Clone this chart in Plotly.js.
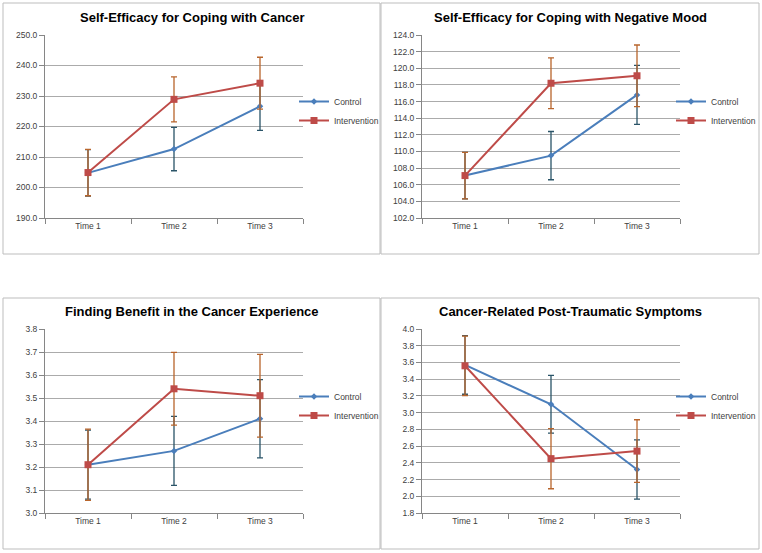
<!DOCTYPE html>
<html>
<head>
<meta charset="utf-8">
<script src="https://cdn.plot.ly/plotly-3.0.1.min.js"></script>
<style>
  html, body { margin: 0; padding: 0; background: #fff; }
  #chart { width: 762px; height: 553px; }
</style>
</head>
<body>
<div id="chart"></div>
<script>
// ---- Data ----
const times = ['Time 1', 'Time 2', 'Time 3'];
const seriesNames = ['Control', 'Intervention'];
const panelTitles = [
  'Self-Efficacy for Coping with Cancer',
  'Self-Efficacy for Coping with Negative Mood',
  'Finding Benefit in the Cancer Experience',
  'Cancer-Related Post-Traumatic Symptoms'
];

const cancerControl = [204.8, 212.6, 226.6];
const cancerControlErr = [7.6, 7.1, 7.9];
const cancerIntervention = [204.9, 228.9, 234.2];
const cancerInterventionErr = [7.6, 7.4, 8.5];

const moodControl = [107.1, 109.5, 116.8];
const moodControlErr = [2.8, 2.9, 3.55];
const moodIntervention = [107.1, 118.2, 119.1];
const moodInterventionErr = [2.8, 3.05, 3.7];

const benefitControl = [3.21, 3.27, 3.41];
const benefitControlErr = [0.15, 0.15, 0.17];
const benefitIntervention = [3.21, 3.54, 3.51];
const benefitInterventionErr = [0.155, 0.158, 0.18];

const ptsControl = [3.57, 3.10, 2.32];
const ptsControlErr = [0.35, 0.345, 0.355];
const ptsIntervention = [3.56, 2.45, 2.54];
const ptsInterventionErr = [0.355, 0.36, 0.375];

const yRanges = [[190, 250], [102, 124], [3.0, 3.8], [1.8, 4.0]];
const yDticks = [10, 2, 0.1, 0.2];

// ---- Styling ----
const W = 762, H = 553;
const controlColor = '#4A7EBB';
const interventionColor = '#BE4B48';
const controlErrColor = '#2A5468';
const interventionErrColor = '#B8652C';
const font = 'Arial, "Liberation Sans", sans-serif';

// plot areas in pixels [x0, x1, y0(top), y1(bottom)]
const areas = [
  [45, 303, 35, 218],
  [422, 680, 35, 218],
  [45, 303, 329, 513],
  [422, 680, 329, 513]
];
const frames = [
  [3, 380, 3, 254],
  [381, 759, 3, 254],
  [3, 380, 298, 549],
  [381, 759, 298, 549]
];
const titlePos = [[192, 17], [570, 17], [192, 311], [570, 311]];
const legendPos = [[294, 111], [671, 111], [294, 406], [671, 406]];

const panels = [
  [cancerControl, cancerControlErr, cancerIntervention, cancerInterventionErr],
  [moodControl, moodControlErr, moodIntervention, moodInterventionErr],
  [benefitControl, benefitControlErr, benefitIntervention, benefitInterventionErr],
  [ptsControl, ptsControlErr, ptsIntervention, ptsInterventionErr]
];

const px = x => x / W;
const py = y => 1 - y / H;

const traces = [];
const layout = {
  width: W, height: H,
  margin: {l: 0, r: 0, t: 0, b: 0, autoexpand: false},
  paper_bgcolor: '#ffffff',
  plot_bgcolor: '#ffffff',
  font: {family: font, size: 8, color: '#404040'},
  showlegend: true,
  shapes: [],
  annotations: []
};

panels.forEach((p, i) => {
  const n = i + 1;
  const xa = n === 1 ? 'x' : 'x' + n;
  const ya = n === 1 ? 'y' : 'y' + n;
  const lg = n === 1 ? 'legend' : 'legend' + n;
  const [c, ce, iv, ive] = p;
  traces.push({
    type: 'scatter', mode: 'lines+markers',
    x: times, y: c, name: seriesNames[0],
    xaxis: xa, yaxis: ya, legend: lg,
    line: {color: controlColor, width: 2},
    marker: {symbol: 'diamond', size: 5, color: controlColor},
    error_y: {type: 'data', array: ce, visible: true, color: controlErrColor, thickness: 1.3, width: 3}
  });
  traces.push({
    type: 'scatter', mode: 'lines+markers',
    x: times, y: iv, name: seriesNames[1],
    xaxis: xa, yaxis: ya, legend: lg,
    line: {color: interventionColor, width: 2},
    marker: {symbol: 'square', size: 7, color: interventionColor},
    error_y: {type: 'data', array: ive, visible: true, color: interventionErrColor, thickness: 1.3, width: 3}
  });

  const [ax0, ax1, ay0, ay1] = areas[i];
  const xKey = n === 1 ? 'xaxis' : 'xaxis' + n;
  const yKey = n === 1 ? 'yaxis' : 'yaxis' + n;
  layout[xKey] = {
    domain: [px(ax0), px(ax1)],
    anchor: ya,
    type: 'category',
    range: [-0.5, 2.5],
    showgrid: false,
    showline: true, linecolor: '#868686', linewidth: 1,
    ticks: 'outside', ticklen: 5, tickcolor: '#868686',
    tickson: 'boundaries',
    tickfont: {family: font, size: 8.5, color: '#404040'},
    fixedrange: true
  };
  layout[yKey] = {
    domain: [py(ay1), py(ay0)],
    anchor: xa,
    range: yRanges[i],
    dtick: yDticks[i],
    tick0: yRanges[i][0],
    tickformat: '.1f',
    showgrid: true, gridcolor: '#ABABAB', gridwidth: 1,
    zeroline: false,
    showline: true, linecolor: '#868686', linewidth: 1,
    ticks: 'outside', ticklen: 5, tickcolor: '#868686',
    tickfont: {family: font, size: 8.5, color: '#404040'},
    fixedrange: true
  };
  layout[lg] = {
    x: px(legendPos[i][0]), y: py(legendPos[i][1]),
    xanchor: 'left', yanchor: 'middle',
    bgcolor: 'rgba(0,0,0,0)', borderwidth: 0,
    font: {family: font, size: 8.5, color: '#404040'},
    tracegroupgap: 0
  };

  const [fx0, fx1, fy0, fy1] = frames[i];
  layout.shapes.push({
    type: 'rect', xref: 'paper', yref: 'paper',
    x0: px(fx0), x1: px(fx1), y0: py(fy1), y1: py(fy0),
    line: {color: '#BDBDBD', width: 1}, fillcolor: 'rgba(0,0,0,0)', layer: 'below'
  });
  layout.annotations.push({
    xref: 'paper', yref: 'paper',
    x: px(titlePos[i][0]), y: py(titlePos[i][1]),
    xanchor: 'center', yanchor: 'middle',
    text: '<b>' + panelTitles[i] + '</b>',
    showarrow: false,
    font: {family: font, size: 13, color: '#000000'}
  });
});

Plotly.newPlot('chart', traces, layout, {staticPlot: true, displayModeBar: false});
</script>
</body>
</html>
